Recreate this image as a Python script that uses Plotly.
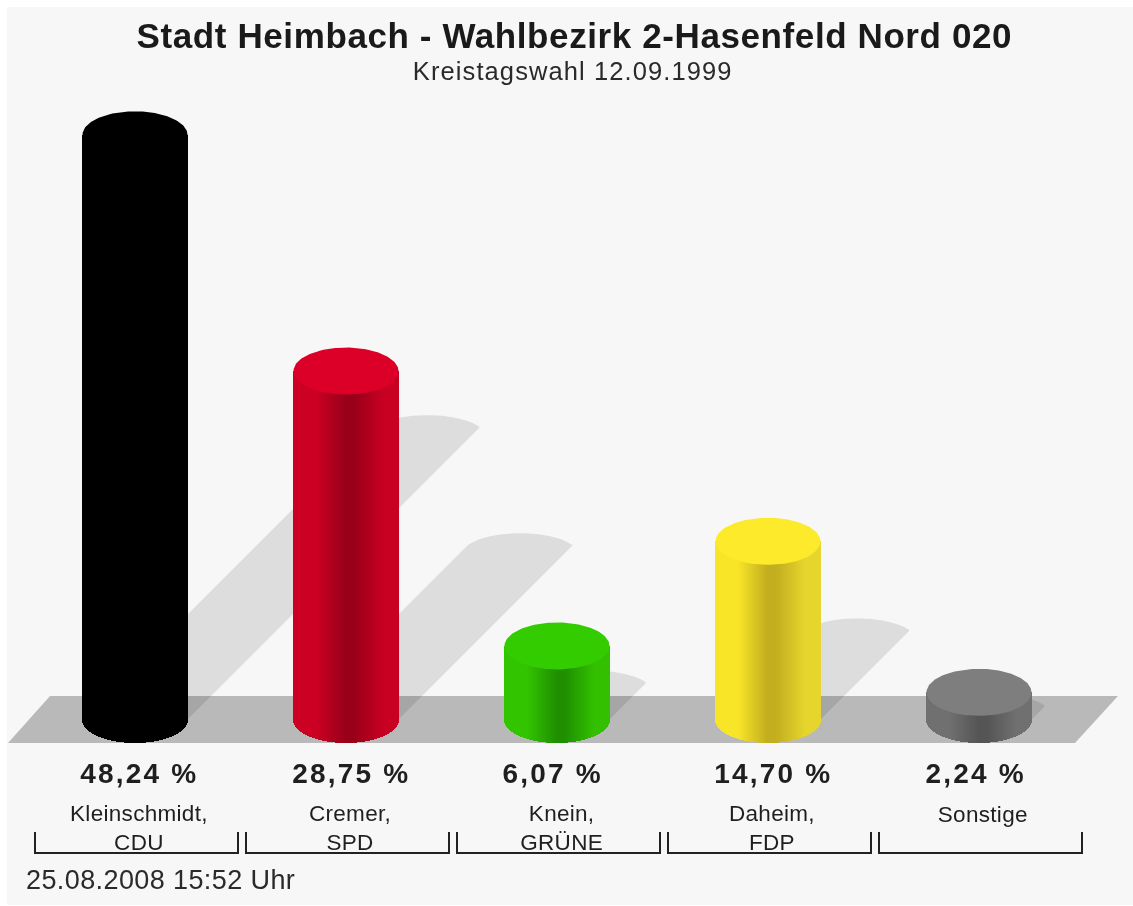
import json
import numpy as np
import plotly.graph_objects as go

# ---- data ----
title = "Stadt Heimbach - Wahlbezirk 2-Hasenfeld Nord 020"
subtitle = "Kreistagswahl 12.09.1999"
stamp = "25.08.2008 15:52 Uhr"
names = ["Kleinschmidt,<br>CDU", "Cremer,<br>SPD", "Knein,<br>GRÜNE", "Daheim,<br>FDP", "Sonstige"]
values = [48.24, 28.75, 6.07, 14.70, 2.24]
edge_left = ["#000000", "#cc0022", "#33c400", "#f8e528", "#707070"]
dark_core = ["#000000", "#98001a", "#1f8f00", "#c2ae1f", "#555555"]
edge_right = ["#000000", "#c80022", "#33c000", "#e6d52c", "#707070"]
top_face = ["#000000", "#dc0028", "#33cc00", "#fdea2a", "#7e7e7e"]
value_label_shift = [0, 1, -9, 1.5, -7.5]

# ---- scale: one category = 211 px, one percent = 12.12 px ----
PX_X, PX_Y = 211.0, 12.12
X0_PX, Y0_PX = 135.0, 719.5        # centre of first cylinder's base
L, T, B = 7, 7, 1
W, H = 1133, 906
xr = [(L - X0_PX) / PX_X, (W - X0_PX) / PX_X]
yr = [(Y0_PX - (H - B)) / PX_Y, (Y0_PX - T) / PX_Y]

RX = 52.5 / PX_X      # half width of a cylinder
RY = 23.5 / PX_Y      # half height of its ellipse
STRIP = 1.0 / PX_X


def hexrgb(c):
    return np.array([int(c[i:i + 2], 16) for i in (1, 3, 5)], float)


def shade(t, a, b, c):
    ca, cb, cc = hexrgb(a), hexrgb(b), hexrgb(c)
    if t < 0.22:
        m = ca
    elif t < 0.5:
        m = ca + (cb - ca) * (t - 0.22) / 0.28
    elif t < 0.58:
        m = cb
    elif t < 0.86:
        m = cb + (cc - cb) * (t - 0.58) / 0.28
    else:
        m = cc
    return "rgb(%d,%d,%d)" % tuple(m.round())


def path(xs, ys):
    return "M" + " L".join(f"{x:.5f},{y:.5f}" for x, y in zip(xs, ys)) + " Z"


shapes = []
# floor
fy0, fy1 = -RY, RY
shapes.append(dict(type="path", xref="x", yref="y", layer="below", line_width=0, fillcolor="#b9b9b9",
                   path=path([(8 - X0_PX) / PX_X, (1075 - X0_PX) / PX_X, (1118 - X0_PX) / PX_X, (50 - X0_PX) / PX_X],
                             [fy0, fy0, fy1, fy1])))
# cast shadows: half as high as the bar, running off at 45 degrees
for i, v in enumerate(values):
    d = 0.5 * v
    dx = d * PX_Y / PX_X
    a = 0.45
    th = np.linspace(a, np.pi - a, 40)
    xs = [i - RX, i + RX] + list(i + dx + RX * np.cos(th) / np.cos(a))
    ys = [0, 0] + list(d + (12 / PX_Y) * (np.sin(th) - np.sin(a)) / (1 - np.sin(a)))
    shapes.append(dict(type="path", xref="x", yref="y", layer="below", line_width=0,
                       fillcolor="rgba(0,0,0,0.10)", path=path(xs, ys)))
# brackets under the names
for i in range(len(values)):
    c = i + 1.5 / PX_X
    hw = 101.5 / PX_X
    shapes.append(dict(type="path", xref="x", yref="y", line=dict(color="#222222", width=2),
                       path=f"M{c - hw:.5f},{(Y0_PX - 832) / PX_Y:.4f} L{c - hw:.5f},{(Y0_PX - 853) / PX_Y:.4f} "
                            f"L{c + hw:.5f},{(Y0_PX - 853) / PX_Y:.4f} L{c + hw:.5f},{(Y0_PX - 832) / PX_Y:.4f}"))

fig = go.Figure()
for i, v in enumerate(values):
    n = int(round(2 * RX / STRIP))
    u = (np.arange(n) + 0.5) / n
    x = i - RX + 2 * RX * u
    low = -RY * np.sqrt(np.clip(1 - (2 * u - 1) ** 2, 0, 1))
    fig.add_trace(go.Bar(x=x, y=v - low, base=low, width=STRIP * 1.3,
                         marker=dict(color=[shade(t, edge_left[i], dark_core[i], edge_right[i]) for t in u],
                                     line_width=0),
                         hoverinfo="skip", showlegend=False))
    th = np.linspace(0, 2 * np.pi, 160)
    fig.add_trace(go.Scatter(x=i + RX * np.cos(th), y=v + RY * np.sin(th), mode="lines",
                             fill="toself", fillcolor=top_face[i], line=dict(width=0),
                             hoverinfo="skip", showlegend=False))


def py(p):
    return (Y0_PX - p) / PX_Y


def px(p):
    return (p - X0_PX) / PX_X


FONT = "Liberation Sans, Arial, Helvetica, sans-serif"
ann = [
    dict(x=px(574.5), y=py(35), text=f"<b>{title}</b>", font=dict(size=35, color="#1a1a1a", family=FONT)),
    dict(x=px(572), y=py(71), text=subtitle, font=dict(size=25.5, color="#2a2a2a", family=FONT)),
    dict(x=px(160), y=py(880), text=stamp, font=dict(size=27, color="#2a2a2a", family=FONT)),
]
spacing = [0.6, 1.1, 0.4]
for i, (nm, v) in enumerate(zip(names, values)):
    ann.append(dict(x=i + (4 + value_label_shift[i]) / PX_X, y=py(773),
                    text="<b>" + f"{v:.2f}".replace(".", ",") + " %</b>",
                    font=dict(size=28, color="#1f1f1f", family=FONT)))
    spacing.append(2.2)
    two = "<br>" in nm
    ann.append(dict(x=i + 4 / PX_X, y=py(828 if two else 814), text=nm,
                    font=dict(size=22.5, color="#1f1f1f", family=FONT)))
    spacing.append(0.3)
for a in ann:
    a.update(xref="x", yref="y", showarrow=False, xanchor="center", yanchor="middle")

fig.update_layout(
    width=W, height=H, barmode="overlay", bargap=0,
    paper_bgcolor="#ffffff", plot_bgcolor="#f7f7f7",
    margin=dict(l=L, r=0, t=T, b=B, pad=0),
    xaxis=dict(range=xr, visible=False, fixedrange=True),
    yaxis=dict(range=yr, visible=False, fixedrange=True),
    shapes=shapes, annotations=ann, showlegend=False,
)
post = (
    "document.body.style.margin='0';document.body.style.overflow='hidden';"
    "var sp=" + json.dumps(spacing) + ";"
    "document.querySelectorAll('.annotation-text').forEach(function(t,i){t.style.letterSpacing=sp[i]+'px';});"
    "document.querySelector('.plotly-graph-div').style.filter='blur(0.6px)';"
)
fig.write_html("out.html", config={"displayModeBar": False}, post_script=post)
